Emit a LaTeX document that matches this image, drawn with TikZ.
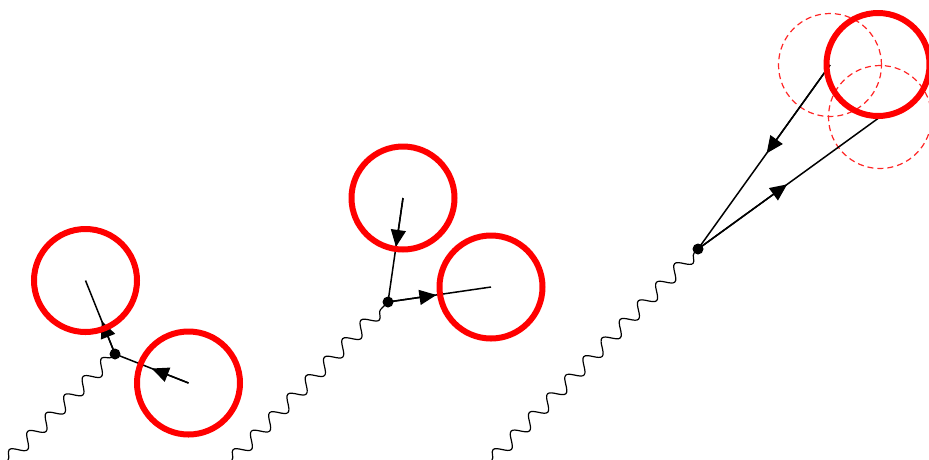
\documentclass[tikz,border=0pt]{standalone}
\usetikzlibrary{arrows.meta,decorations.pathmorphing,calc}
\begin{document}
\begin{tikzpicture}[x=1pt,y=-1pt,
  ring/.style={circle,draw=red,line width=6pt,minimum size=103pt,inner sep=0pt,outer sep=0pt},
  ghost/.style={circle,draw=red!85,line width=1.2pt,dash pattern=on 6pt off 4pt,minimum size=103pt,inner sep=0pt,outer sep=0pt},
  lep/.style={line width=1.5pt},
  tipar/.style={line width=1.5pt,-{Triangle[length=17pt,width=15pt]}},
  photon/.style={line width=1.2pt,decorate,decoration={snake,segment length=26pt,amplitude=6.5pt}},
  vtx/.style={circle,fill=black,inner sep=0pt,minimum size=11pt}]
\useasboundingbox (0,0) rectangle (929,459);
% panel 1
\coordinate (v1) at (115,354);
\coordinate (A) at (85.5,280.5);
\coordinate (B) at (188.5,383);
\coordinate (p1) at (8,460);
\draw[photon] (p1) -- (v1);
\draw[lep] (v1) -- (A);
\draw[lep] (v1) -- (B);
\draw[tipar] (v1) -- ($(v1)!0.45!(A)$);
\draw[tipar] (B) -- ($(v1)!0.5!(B)$);
\node[ring] (ringA) at (A) {};
\node[ring] (ringB) at (B) {};
\node[vtx] (dot1) at (v1) {};
% panel 2
\coordinate (v2) at (388,302);
\coordinate (C) at (403,198);
\coordinate (D) at (491,287);
\coordinate (p2) at (232,460);
\draw[photon] (p2) -- (v2);
\draw[lep] (v2) -- (C);
\draw[lep] (v2) -- (D);
\draw[tipar] (C) -- ($(C)!0.47!(v2)$);
\draw[tipar] (v2) -- ($(v2)!0.47!(D)$);
\node[ring] (ringC) at (C) {};
\node[ring] (ringD) at (D) {};
\node[vtx] (dot2) at (v2) {};
% panel 3
\coordinate (v3) at (698,249);
\coordinate (E) at (878,64.5);
\coordinate (F) at (830,65);
\coordinate (G) at (880,117);
\coordinate (p3) at (492,460);
\draw[photon] (p3) -- (v3);
\node[ghost] (ghostF) at (F) {};
\node[ghost] (ghostG) at (G) {};
\draw[lep] (v3) -- (F);
\draw[lep] (v3) -- (G);
\draw[tipar] (F) -- ($(F)!0.48!(v3)$);
\draw[tipar] (v3) -- ($(v3)!0.49!(G)$);
\node[ring] (ringE) at (E) {};
\node[vtx] (dot3) at (v3) {};
\end{tikzpicture}
\end{document}
